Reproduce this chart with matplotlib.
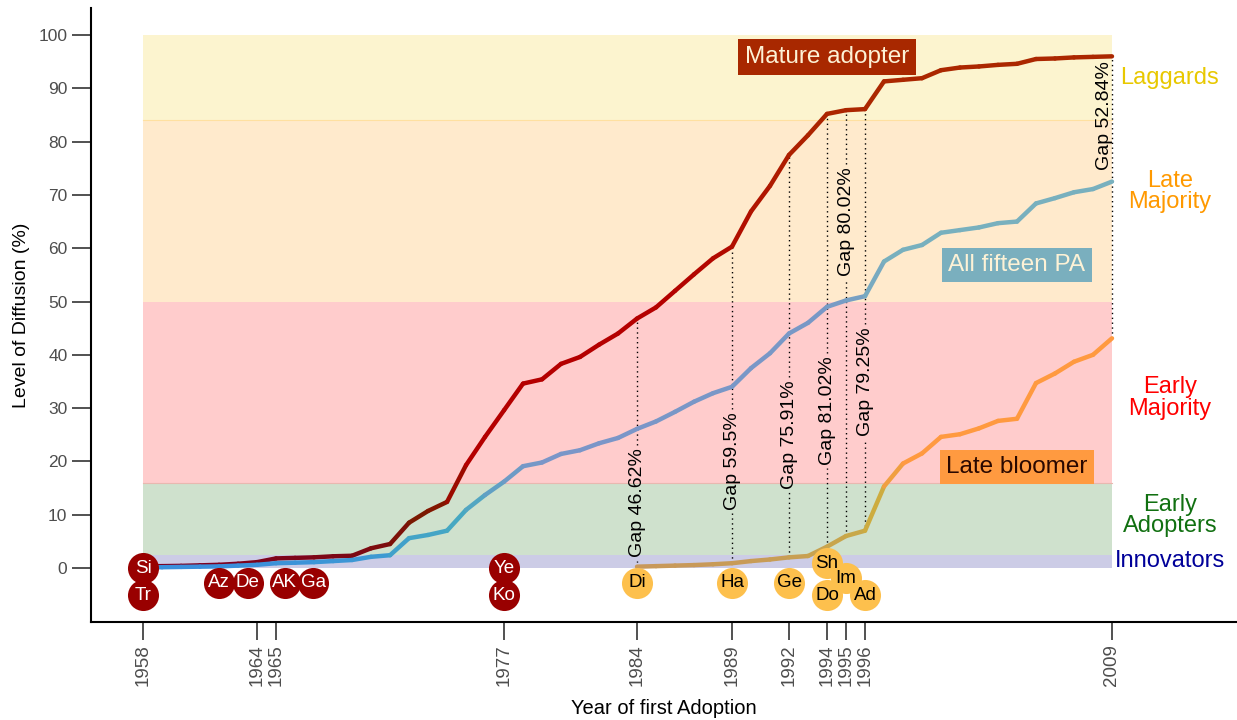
import matplotlib.pyplot as plt
import numpy as np
from matplotlib.collections import LineCollection
from matplotlib.colors import LinearSegmentedColormap

plt.rcParams['font.family'] = ['Liberation Sans', 'DejaVu Sans']

years = list(range(1958, 2010))
mature = [0.3, 0.35, 0.4, 0.5, 0.6, 0.8, 1.1, 1.8, 1.9, 2.0, 2.2, 2.3,
          3.7, 4.5, 8.5, 10.7, 12.4, 19.3, 24.6, 29.6, 34.6, 35.4,
          38.3, 39.6, 41.9, 44.0, 46.8, 48.9, 52.0, 55.1, 58.1, 60.3,
          66.9, 71.7, 77.5, 81.2, 85.2, 85.9, 86.1, 91.3, 91.6, 91.9,
          93.4, 93.9, 94.1, 94.4, 94.6, 95.5, 95.6, 95.8, 95.9, 96.0]
all_pa = [0.1, 0.15, 0.2, 0.25, 0.3, 0.45, 0.6, 0.9, 1.0, 1.1, 1.3, 1.5,
          2.1, 2.4, 5.6, 6.2, 7.0, 10.9, 13.7, 16.2, 19.1, 19.8,
          21.4, 22.1, 23.4, 24.4, 26.1, 27.5, 29.3, 31.2, 32.8, 34.0,
          37.5, 40.3, 44.0, 46.0, 49.0, 50.2, 51.0, 57.5, 59.7, 60.6,
          62.9, 63.4, 63.9, 64.7, 65.0, 68.4, 69.4, 70.5, 71.1, 72.5]
late_years = list(range(1984, 2010))
late = [0.25, 0.35, 0.45, 0.55, 0.7, 0.9,
        1.3, 1.6, 2.0, 2.25, 4.0, 6.0, 7.0, 15.3, 19.6, 21.5,
        24.6, 25.1, 26.2, 27.6, 28.0, 34.7, 36.5, 38.7, 40.0, 43.1]

gap_years = [1984, 1989, 1992, 1994, 1995, 1996, 2009]
gap_labels = ['Gap 46.62%', 'Gap 59.5%', 'Gap 75.91%', 'Gap 81.02%',
              'Gap 80.02%', 'Gap 79.25%', 'Gap 52.84%']
gap_text_y = [12.2, 20.0, 25.1, 29.5, 65.0, 35.0, 84.9]

red_names = ['Si', 'Tr', 'Az', 'De', 'AK', 'Ga', 'Ye', 'Ko']
red_x = [1958, 1958, 1962.0, 1963.5, 1965.45, 1966.95, 1977, 1977]
red_y = [0, -5.1, -2.8, -2.8, -2.8, -2.8, 0, -5.1]
org_names = ['Di', 'Ha', 'Ge', 'Sh', 'Im', 'Do', 'Ad']
org_x = [1984, 1989, 1992, 1994, 1995, 1994, 1996]
org_y = [-2.8, -2.8, -2.8, 0.9, -1.9, -5.1, -5.1]

bands = [(0, 2.5), (2.5, 16), (16, 50), (50, 84), (84, 100)]
band_colors = ['#ccccE6', '#cfe1cd', '#ffcccc', '#ffeacc', '#fcf4cf']
band_names = ['Innovators', 'Early\nAdopters', 'Early\nMajority', 'Late\nMajority', 'Laggards']
band_text_y = [1.3, 9.9, 31.9, 70.7, 92.0]
band_text_colors = ['#000099', '#117011', '#ff0000', '#ff9900', '#e8c800']

xticks = [1958, 1964, 1965, 1977, 1984, 1989, 1992, 1994, 1995, 1996, 2009]

fig = plt.figure(figsize=(12.37, 7.2), dpi=100)
ax = fig.add_axes([91 / 1237, 98 / 720, 1 - 91 / 1237, 614 / 720])
ax.set_xlim(1955.26, 2015.58)
ax.set_ylim(-10.13, 105.07)

for (lo, hi), c in zip(bands, band_colors):
    ax.fill_between([years[0], years[-1]], lo, hi, color=c, lw=0, zorder=0)
for b, c in zip([16, 84], ['#e8b8b0', '#ffe0a0']):
    ax.plot([years[0], years[-1]], [b, b], color=c, lw=0.8, zorder=0.5)
for name, ty, tc in zip(band_names, band_text_y, band_text_colors):
    ax.text(2012.05, ty, name, color=tc, fontsize=17, ha='center', va='center',
            linespacing=0.95)


def gradient_line(x, y, stops):
    cmap = LinearSegmentedColormap.from_list('g', stops)
    x = np.asarray(x, float)
    y = np.asarray(y, float)
    pts = np.column_stack([x, y]).reshape(-1, 1, 2)
    segs = np.concatenate([pts[:-1], pts[1:]], axis=1)
    mids = (y[:-1] + y[1:]) / 2 / 100
    lc = LineCollection(segs, colors=[cmap(m) for m in mids], linewidths=3.2,
                        capstyle='round', joinstyle='round', zorder=3)
    ax.add_collection(lc)


gradient_line(years, mature, [(0, '#7d0022'), (0.03, '#7d0a10'), (0.10, '#7a1a00'),
                              (0.20, '#b40000'), (0.50, '#b40000'), (0.85, '#ac2600'),
                              (1, '#aa2800')])
gradient_line(years, all_pa, [(0, '#3a8fdc'), (0.03, '#40a0cc'), (0.10, '#48aac0'),
                              (0.20, '#7a96c8'), (0.48, '#7898c6'), (0.56, '#78b0be'),
                              (1, '#78b0be')])
gradient_line(late_years, late, [(0, '#c8985a'), (0.03, '#c8a250'), (0.10, '#c8ae40'),
                                 (0.20, '#ff9a40'), (1, '#ff9a40')])

gap_texts = []
for gy, gl, ty in zip(gap_years, gap_labels, gap_text_y):
    t = ax.text(gy + (0.05 if gy == 2009 else 0), ty, gl, rotation=90, fontsize=14,
                ha='right' if gy == 2009 else 'center', va='center', zorder=4)
    gap_texts.append(t)

# dotted gap lines, broken where the label sits on top of them
fig.canvas.draw()
inv = ax.transData.inverted()
for gy, t in zip(gap_years, gap_texts):
    lo = late[late_years.index(gy)]
    hi = mature[years.index(gy)]
    if gy == 2009:
        parts = [(lo, hi)]
    else:
        bb = t.get_window_extent()
        y0 = inv.transform((bb.x0, bb.y0))[1] - 0.6
        y1 = inv.transform((bb.x1, bb.y1))[1] + 0.6
        parts = [(lo, y0), (y1, hi)]
    for a, b in parts:
        if b > a:
            ax.plot([gy, gy], [a, b], color='black', lw=1, ls=(0, (1, 2.5)), zorder=2)

ax.scatter(red_x, red_y, s=500, color='#990000', lw=0, zorder=5)
for n, x, y in zip(red_names, red_x, red_y):
    ax.text(x, y, n, color='white', fontsize=13.5, ha='center', va='center', zorder=6)
ax.scatter(org_x, org_y, s=500, color='#fdc04d', lw=0, zorder=5)
for n, x, y in zip(org_names, org_x, org_y):
    ax.text(x, y, n, color='black', fontsize=13.5, ha='center', va='center', zorder=6)

ax.text(1994.0, 95.9, 'Mature adopter', color='#fdf2d6', fontsize=17.5, ha='center',
        va='center', zorder=6,
        bbox=dict(boxstyle='square,pad=0.3', fc='#a82800', ec='none'))
ax.text(2004.0, 56.9, 'All fifteen PA', color='#fdf2d6', fontsize=17.5, ha='center',
        va='center', zorder=6,
        bbox=dict(boxstyle='square,pad=0.25', fc='#7aafbe', ec='none'))
ax.text(2004.0, 18.9, 'Late bloomer', color='#2a0800', fontsize=17.5, ha='center',
        va='center', zorder=6,
        bbox=dict(boxstyle='square,pad=0.25', fc='#ff9a40', ec='none'))

for s in ['top', 'right']:
    ax.spines[s].set_visible(False)
for s in ['left', 'bottom']:
    ax.spines[s].set_linewidth(1.5)
ax.set_facecolor('none')

ax.set_yticks(range(0, 101, 10))
ax.set_xticks(xticks)
ax.set_xticklabels([str(t) for t in xticks], rotation=90)
ax.tick_params(axis='y', length=14, width=1.2, color='#333333', labelcolor='#4d4d4d',
               labelsize=12.5, pad=3)
ax.tick_params(axis='x', length=13, width=1.2, color='#333333', labelcolor='#4d4d4d',
               labelsize=13.5, pad=3)
ax.set_ylabel('Level of Diffusion (%)', fontsize=14, labelpad=6)
ax.set_xlabel('Year of first Adoption', fontsize=14.5, labelpad=9)

fig.savefig('out.png', dpi=100)
